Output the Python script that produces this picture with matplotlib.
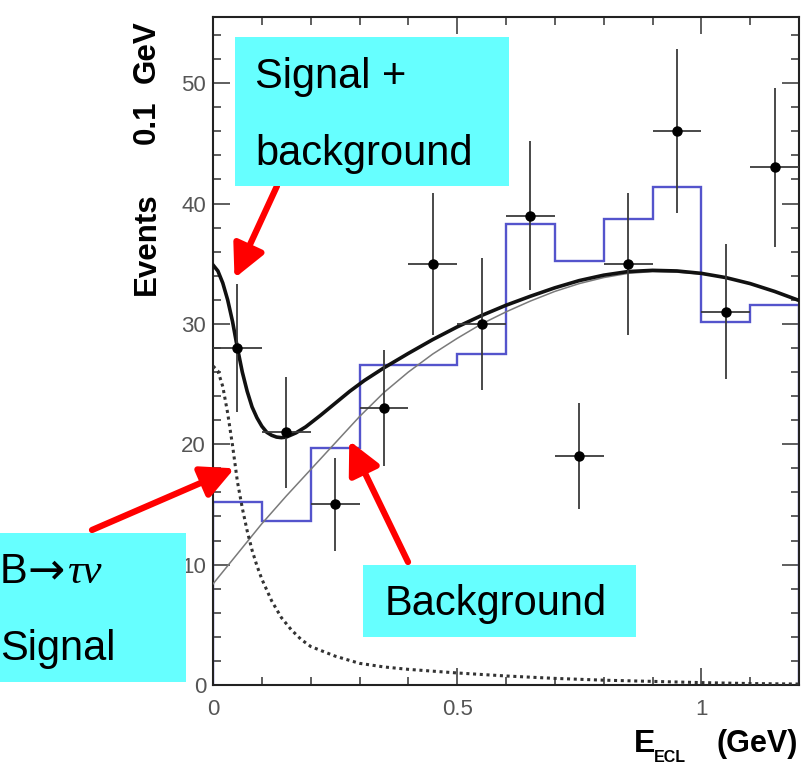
import matplotlib
matplotlib.use("Agg")
import matplotlib.pyplot as plt
from matplotlib.patches import Rectangle
from matplotlib.ticker import FixedLocator, MultipleLocator, FixedFormatter

# ---------------- data ----------------
bin_edges = [0.0, 0.1, 0.2, 0.3, 0.4, 0.5, 0.6, 0.7, 0.8, 0.9, 1.0, 1.1, 1.2]
mc_hist = [15.2, 13.6, 19.7, 26.6, 26.6, 27.5, 38.3, 35.2, 38.7, 41.4, 30.2, 31.6]

data_x = [0.05, 0.15, 0.25, 0.35, 0.45, 0.55, 0.65, 0.75, 0.85, 0.95, 1.05, 1.15]
data_y = [28, 21, 15, 23, 35, 30, 39, 19, 35, 46, 31, 43]
data_yerr = [5.3, 4.6, 3.9, 4.8, 5.9, 5.5, 6.2, 4.4, 5.9, 6.8, 5.6, 6.6]
data_xerr = [0.05] * 12

total_x = [0.0, 0.01, 0.02, 0.03, 0.04, 0.05, 0.06, 0.07, 0.08, 0.09, 0.10, 0.11,
           0.12, 0.13, 0.14, 0.15, 0.17, 0.19, 0.22, 0.25, 0.28, 0.31, 0.35, 0.40,
           0.45, 0.50, 0.55, 0.60, 0.65, 0.70, 0.75, 0.80, 0.85, 0.90, 0.95, 1.00,
           1.05, 1.10, 1.15, 1.20]
total_y = [34.9, 34.4, 33.4, 32.0, 30.2, 28.0, 26.0, 24.4, 23.1, 22.2, 21.5, 21.0,
           20.75, 20.6, 20.55, 20.6, 20.95, 21.45, 22.4, 23.4, 24.4, 25.3, 26.35, 27.55,
           28.7, 29.75, 30.7, 31.55, 32.3, 33.0, 33.6, 34.05, 34.35, 34.45, 34.4, 34.2,
           33.85, 33.35, 32.7, 31.95]

bkg_x = [0.0, 0.05, 0.10, 0.15, 0.20, 0.25, 0.30, 0.35, 0.40, 0.45, 0.50, 0.55,
         0.60, 0.65, 0.70, 0.75, 0.80, 0.85, 0.90, 0.95, 1.00, 1.05, 1.10, 1.15, 1.20]
bkg_y = [8.4, 10.9, 13.4, 15.7, 17.9, 20.1, 22.3, 24.3, 26.0, 27.5, 28.8, 30.0,
         31.0, 31.9, 32.7, 33.35, 33.85, 34.2, 34.35, 34.3, 34.15, 33.85, 33.35, 32.7, 31.95]

sig_x = [0.0, 0.01, 0.02, 0.03, 0.04, 0.05, 0.06, 0.07, 0.08, 0.09, 0.10, 0.12,
         0.14, 0.16, 0.18, 0.20, 0.25, 0.30, 0.35, 0.40, 0.50, 0.60, 0.70, 0.80,
         0.90, 1.00, 1.10, 1.20]
sig_y = [26.5, 26.1, 24.8, 22.6, 19.9, 16.9, 14.7, 12.8, 11.2, 9.9, 8.8, 7.0,
         5.6, 4.6, 3.8, 3.2, 2.4, 1.8, 1.5, 1.3, 1.0, 0.75, 0.55, 0.4,
         0.3, 0.2, 0.12, 0.08]

x_major = [0.0, 0.5, 1.0]
x_labels = ["0", "0.5", "1"]
y_major = [0, 10, 20, 30, 40, 50]
y_labels = ["0", "10", "20", "30", "40", "50"]

# ---------------- figure ----------------
W, H = 811, 767
DPI = 100
fig = plt.figure(figsize=(W / DPI, H / DPI), dpi=DPI)
fig.patch.set_facecolor("white")

ax_l, ax_r, ax_t, ax_b = 213, 799, 17, 685
ax = fig.add_axes([ax_l / W, 1 - ax_b / H, (ax_r - ax_l) / W, (ax_b - ax_t) / H])
ax.set_xlim(0, 1.2)
ax.set_ylim(0, 55.5)

ax.stairs(mc_hist, bin_edges, color="#5454cc", lw=1.7, zorder=2)
ax.plot(bkg_x, bkg_y, color="#7a7a7a", lw=1.1, zorder=3)
ax.plot(sig_x, sig_y, color="#333333", lw=2.2, ls=(0, (1, 1.2)), zorder=3)
ax.plot(total_x, total_y, color="#111111", lw=2.6, zorder=4, solid_joinstyle="round")
ax.errorbar(data_x, data_y, yerr=data_yerr, xerr=data_xerr, fmt="o",
            color="black", ms=6.5, ecolor="#3a3a3a", elinewidth=1.3,
            capsize=0, zorder=5)

for s in ax.spines.values():
    s.set_linewidth(1.5)
    s.set_color("#222222")

ax.xaxis.set_major_locator(FixedLocator(x_major))
ax.xaxis.set_major_formatter(FixedFormatter(x_labels))
ax.xaxis.set_minor_locator(MultipleLocator(0.1))
ax.yaxis.set_major_locator(FixedLocator(y_major))
ax.yaxis.set_major_formatter(FixedFormatter(y_labels))
ax.yaxis.set_minor_locator(MultipleLocator(2))
ax.tick_params(which="both", direction="in", top=True, right=True,
               color="#333333", width=1.1)
ax.tick_params(which="major", length=12)
ax.tick_params(which="minor", length=6)
ax.tick_params(axis="x", which="major", pad=10, labelsize=16, labelcolor="#555555")
ax.tick_params(axis="y", which="major", pad=5, labelsize=16, labelcolor="#555555")
for lab in ax.get_xticklabels() + ax.get_yticklabels():
    lab.set_fontfamily("Liberation Sans")


def fx(x):
    return x / W


def fy(y):
    return 1 - y / H


# axis titles
ylab_kw = dict(rotation=90, rotation_mode="anchor", ha="left", va="baseline",
               fontsize=22.5, fontweight="bold", family="Liberation Sans", color="black")
fig.text(fx(155), fy(295), "Events", **ylab_kw)
fig.text(fx(155), fy(144), "0.1", **ylab_kw)
fig.text(fx(155), fy(83), "GeV", **ylab_kw)

fig.text(fx(634), fy(752), "E", fontsize=23, fontweight="bold",
         family="Liberation Sans", ha="left", va="baseline")
fig.text(fx(654), fy(750), "ECL", fontsize=11.5, fontweight="bold",
         family="Liberation Sans", ha="left", va="top")
fig.text(fx(716), fy(752), "(GeV)", fontsize=22, fontweight="bold",
         family="Liberation Sans", ha="left", va="baseline")

# cyan annotation boxes
cyan = "#66ffff"
for (x0, y0, x1, y1) in [(235, 37, 509, 186), (363, 565, 636, 637), (0, 533, 186, 682)]:
    fig.patches.append(Rectangle((fx(x0), fy(y1)), (x1 - x0) / W, (y1 - y0) / H,
                                 transform=fig.transFigure, facecolor=cyan,
                                 edgecolor="none", zorder=6))

tkw = dict(fontsize=30, family="Liberation Sans", color="black",
           ha="left", va="baseline", zorder=7)
fig.text(fx(255), fy(88), "Signal +", **tkw)
fig.text(fx(255), fy(165), "background", **tkw)
fig.text(fx(385), fy(615), "Background", **tkw)
fig.text(fx(0), fy(583), "B", **tkw)
fig.text(fx(27), fy(583), "\u2192", fontsize=32, family="DejaVu Sans",
         color="black", ha="left", va="baseline", zorder=7)
fig.text(fx(67), fy(583), "\u03c4\u03bd", fontsize=31, family="Liberation Serif",
         style="italic", color="black", ha="left", va="baseline", zorder=7)
fig.text(fx(0), fy(660), "Signal", **tkw)

# red arrows
akw = dict(arrowstyle="-|>,head_length=0.9,head_width=0.45", color="red",
           lw=4.5, shrinkA=0, shrinkB=0, mutation_scale=22)
ax.annotate("", xy=(0.044, 33.8), xycoords="data",
            xytext=(277, H - 186), textcoords="figure pixels",
            arrowprops=akw, annotation_clip=False, zorder=8)
ax.annotate("", xy=(0.044, 18.0), xycoords="data",
            xytext=(92, H - 530), textcoords="figure pixels",
            arrowprops=akw, annotation_clip=False, zorder=8)
ax.annotate("", xy=(0.279, 20.3), xycoords="data",
            xytext=(408, H - 562), textcoords="figure pixels",
            arrowprops=akw, annotation_clip=False, zorder=8)

fig.savefig("out.png", dpi=DPI, facecolor="white")
